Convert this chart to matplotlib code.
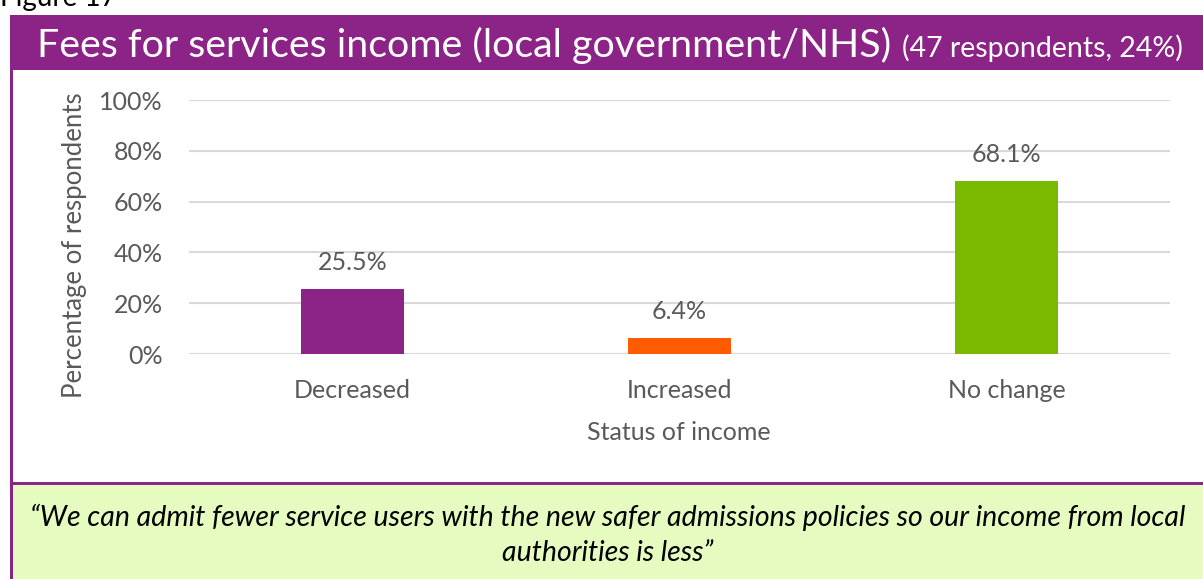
import matplotlib.pyplot as plt
from matplotlib.patches import Rectangle
from matplotlib.ticker import PercentFormatter

# survey results: change in fees income from local government / NHS
categories = ['Decreased', 'Increased', 'No change']
shares = [25.5, 6.4, 68.1]
bar_colors = ['#8C2387', '#FF5B00', '#79B900']
yticks = [0, 20, 40, 60, 80, 100]

title = 'Fees for services income (local government/NHS)'
subtitle = '(47 respondents, 24%)'
quote_lines = ['\u201cWe can admit fewer service users with the new safer admissions policies so our income from local',
               'authorities is less\u201d']

W, H = 1203, 579
purple = '#8C2387'
grey = '#595959'
plt.rcParams['font.family'] = ['Lato', 'DejaVu Sans']

fig = plt.figure(figsize=(W / 100, H / 100), dpi=100)

def px(x0, y0, x1, y1):
    # pixel box (top-left origin) -> figure fraction rect
    return [x0 / W, 1 - y1 / H, (x1 - x0) / W, (y1 - y0) / H]

# frame: title band, border, quote box
bg = fig.add_axes([0, 0, 1, 1])
bg.set_xlim(0, W)
bg.set_ylim(H, 0)
bg.axis('off')
bg.add_patch(Rectangle((10, 15), W - 10, 55, color=purple, lw=0))
bg.add_patch(Rectangle((10, 70), 3, H - 70, color=purple, lw=0))
bg.add_patch(Rectangle((13, 485), W - 13, H - 485, color='#E6FBC0', lw=0))
bg.add_patch(Rectangle((10, 482), W - 10, 3, color=purple, lw=0))

bg.text(0, 6, 'Figure 17', fontsize=20, color='black', va='baseline', ha='left')
t = bg.text(37, 57, title, fontsize=28.4, color='white', va='baseline', ha='left')
fig.canvas.draw()
ext = t.get_window_extent()
bg.text(ext.x1 + 11, 57, subtitle, fontsize=20.5, color='white', va='baseline', ha='left')

for line, base in zip(quote_lines, [526, 561]):
    bg.text(608, base, line, fontsize=20.5, style='italic', color='black',
            ha='center', va='baseline')

ax = fig.add_axes(px(189, 100, 1170, 354))
x = range(len(categories))
bars = ax.bar(x, shares, width=0.315, color=bar_colors, zorder=3)
for b, v in zip(bars, shares):
    ax.annotate(f'{v:.1f}%', (b.get_x() + b.get_width() / 2, v),
                xytext=(0, 19), textcoords='offset points',
                ha='center', va='center', fontsize=18, color=grey)

ax.set_xlim(-0.5, 2.5)
ax.set_ylim(0, 100)
ax.set_yticks(yticks)
ax.yaxis.set_major_formatter(PercentFormatter(decimals=0))
ax.set_xticks(list(x))
ax.set_xticklabels(categories)
ax.grid(axis='y', color='#D9D9D9', lw=1.5, zorder=0)
for s in ax.spines.values():
    s.set_visible(False)
ax.tick_params(axis='y', length=0, pad=19, labelsize=18, labelcolor=grey)
ax.tick_params(axis='x', length=0, pad=18, labelsize=18, labelcolor=grey)

fig.text(679 / W, 1 - 433 / H, 'Status of income', fontsize=18, color=grey,
         ha='center', va='center')
fig.text(75 / W, 1 - 245 / H, 'Percentage of respondents', fontsize=18.5, color=grey,
         ha='center', va='center', rotation=90)

fig.savefig('out.png', dpi=100)
